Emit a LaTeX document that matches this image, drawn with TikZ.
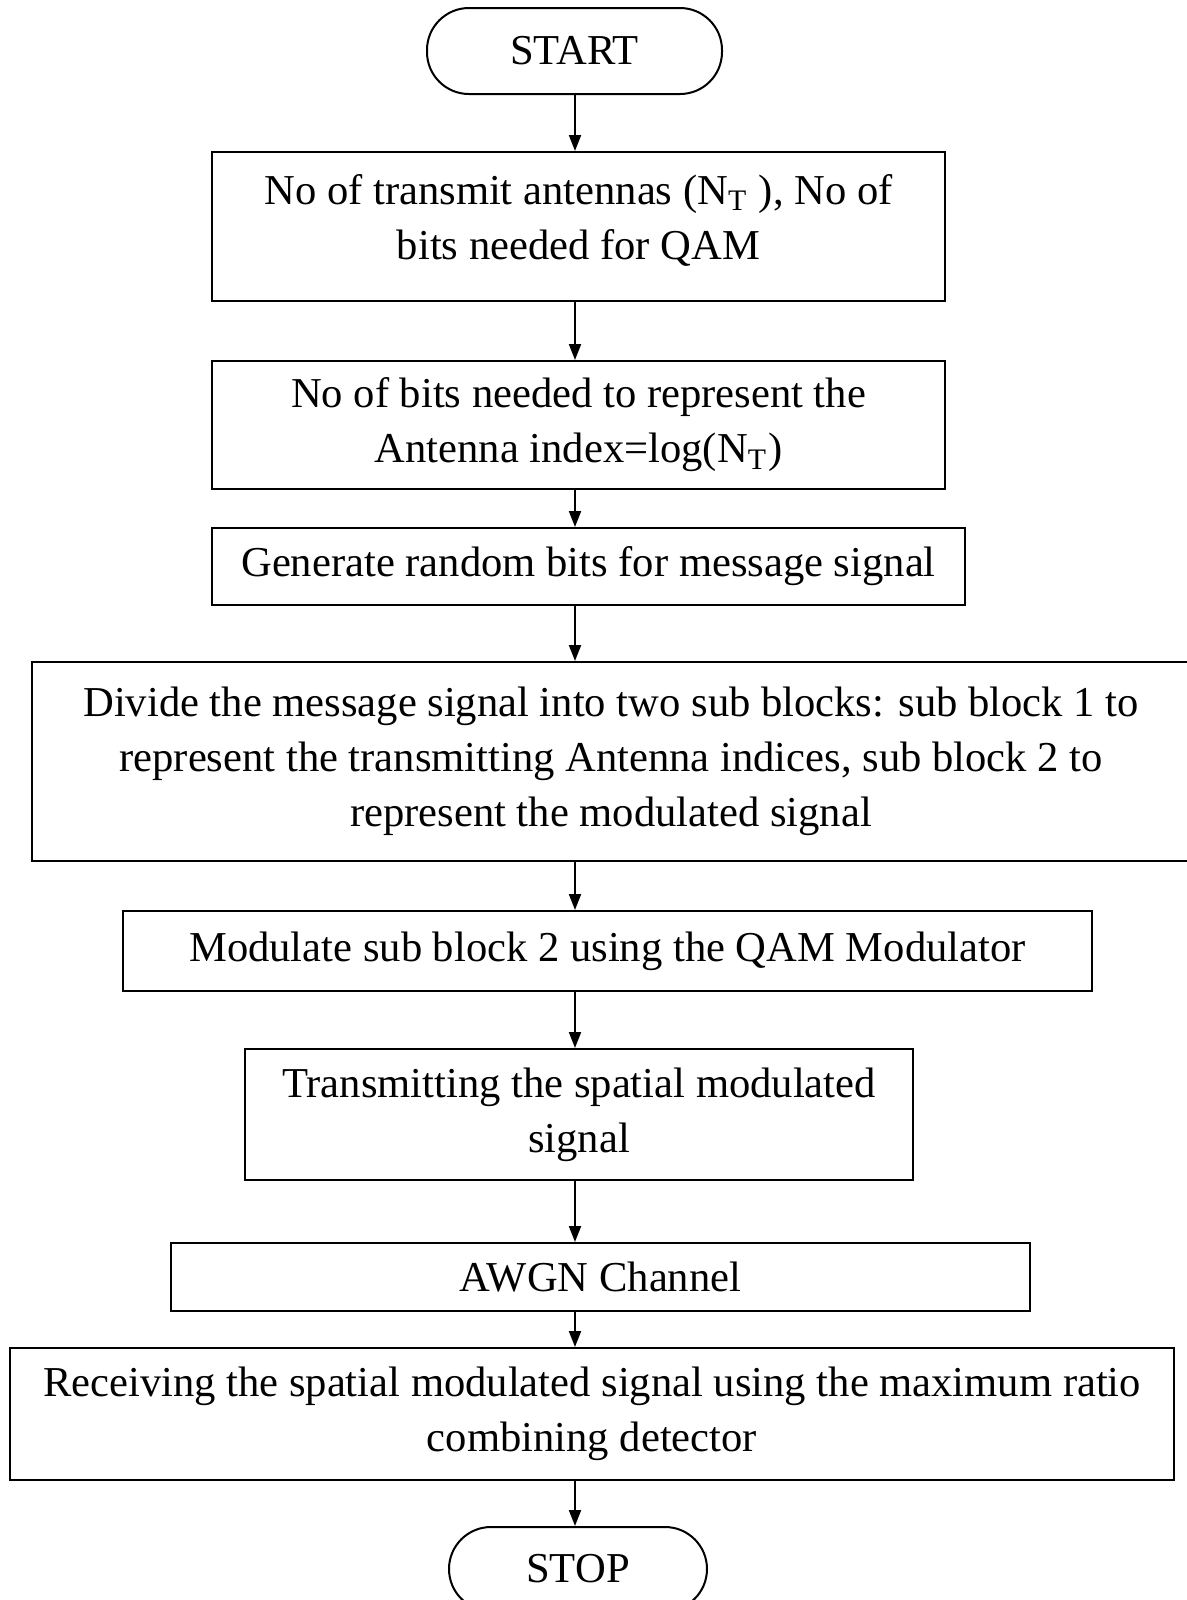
\documentclass[tikz,border=0pt]{standalone}
\usepackage{fontspec}
\setmainfont{Liberation Serif}
\usetikzlibrary{arrows.meta}

\begin{document}
\begin{tikzpicture}[x=0.25pt,y=-0.25pt,
  font=\fontsize{10.65}{13.75}\selectfont,
  box/.style={draw,line width=0.5pt,align=center,inner sep=0pt},
  term/.style={box,rounded corners=10.5pt},
  arr/.style={line width=0.5pt,-{Triangle[length=4pt,width=3pt]}}]
\useasboundingbox (0,0) rectangle (1187,1600);
\coordinate (ax) at (575,0);
\node[term,minimum width=73.75pt,minimum height=21.5pt] (start) at (574.5,51) {START};
\node[box,minimum width=183.25pt,minimum height=37.25pt] (b1) at (578.5,226.5)
  {\raisebox{1.5pt}[\height][\depth]{\begin{tabular}{@{}c@{}}No of transmit antennas (N\textsubscript{T} ), No of\\bits needed for QAM\end{tabular}}};
\node[box,minimum width=183.25pt,minimum height=32pt] (b2) at (578.5,425)
  {No of bits needed to represent the\\Antenna index=log(N\textsubscript{T})};
\node[box,minimum width=188.25pt,minimum height=19.25pt] (b3) at (588.5,566.5)
  {Generate random bits for message signal};
\node[box,minimum width=289.5pt,minimum height=49.75pt] (b4) at (611,761.5)
  {Divide the message signal into two sub blocks: sub block 1 to\\
   represent the transmitting Antenna indices, sub block 2 to\\
   represent the modulated signal};
\node[box,minimum width=242.25pt,minimum height=20pt] (b5) at (607.5,951)
  {Modulate sub block 2 using the QAM Modulator};
\node[box,minimum width=167pt,minimum height=32.75pt] (b6) at (579,1114.5)
  {Transmitting the spatial modulated\\signal};
\node[box,minimum width=214.75pt,minimum height=17pt] (b7) at (600.5,1277)
  {AWGN Channel};
\node[box,minimum width=291pt,minimum height=33pt] (b8) at (592,1414)
  {Receiving the spatial modulated signal using the maximum ratio\\combining detector};
\node[term,minimum width=64.5pt,minimum height=21pt] (stop) at (578,1569) {STOP};
\foreach \a/\b in {start/b1,b1/b2,b2/b3,b3/b4,b4/b5,b5/b6,b6/b7,b7/b8,b8/stop}
  \draw[arr] (\a.south -| ax) -- (\b.north -| ax);
\end{tikzpicture}
\end{document}
